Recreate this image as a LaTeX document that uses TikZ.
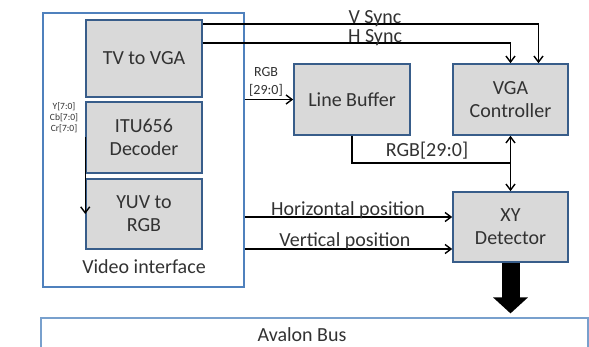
\documentclass[tikz,border=0pt]{standalone}
\usepackage{fontspec}
\setmainfont{Carlito}
\usepackage{tikz}
\usetikzlibrary{positioning, arrows.meta}
\definecolor{BoxEdge}{RGB}{56,93,138}
\definecolor{BoxFill}{RGB}{217,217,217}
\definecolor{OuterEdge}{RGB}{79,129,189}
\definecolor{BusEdge}{RGB}{120,160,205}
\definecolor{TxtGray}{RGB}{50,50,50}

\begin{document}
\begin{tikzpicture}[x=1pt, y=1pt,
    blk/.style={rectangle, draw=BoxEdge, line width=1.6pt, fill=BoxFill,
                minimum width=116pt, minimum height=71pt, inner sep=0pt,
                align=center, font=\fontsize{20}{23}\selectfont, text=TxtGray},
    frame/.style={rectangle, draw=OuterEdge, line width=1.4pt, inner sep=0pt},
    arr/.style={-{Straight Barb[length=6pt, width=9pt]}, line width=1.4pt},
    lbl/.style={font=\fontsize{20}{23}\selectfont, text=TxtGray, inner sep=0pt}
  ]
  \useasboundingbox (0,0) rectangle (589,347);
  \clip (0,0) rectangle (589,347);

  % Video interface
  \node[frame, minimum width=201pt, minimum height=274pt] (vi) at (143.5,197) {};
  \node[blk, minimum height=77pt] (tv)  at (144,288.5) {TV to VGA};
  \node[blk] (itu) at (144,209.5) {ITU656\\Decoder};
  \node[blk, minimum height=70pt] (yuv) at (144,133) {YUV to\\RGB};
  \node[lbl] (vilbl) at (144,80) {Video interface};
  \node[font=\fontsize{9.5}{11}\selectfont, text=TxtGray, align=center, inner sep=0pt]
        (ycc) at (64,229) {Y[7:0]\\Cb[7:0]\\Cr[7:0]};
  \draw[arr] (itu.west) -- (yuv.west);

  % Line buffer, VGA controller, detector
  \node[blk] (lb)  at (352,247.5) {Line Buffer};
  \node[blk, minimum width=115pt] (vga) at (510.5,247.5) {VGA\\Controller};
  \node[blk, minimum width=115pt, minimum height=70pt] (xy) at (510.5,120) {XY\\Detector};

  % Avalon bus
  \node[rectangle, draw=BusEdge, line width=1.2pt, minimum width=547pt,
        minimum height=48pt] (bus) at (314.5,5) {};
  \node[lbl] (buslbl) at (302,12) {Avalon Bus};

  % sync lines
  \draw[arr] ([yshift=-5pt]tv.north east) -| ([xshift=28pt]vga.north);
  \draw[arr] ([yshift=-24pt]tv.north east) -| (vga.north);
  \node[lbl] (vs) at (375,328.5) {V Sync};
  \node[lbl] (hs) at (375,309.5) {H Sync};

  % RGB data
  \draw[arr] (vi.east |- lb.west) -- (lb.west);
  \node[font=\fontsize{14}{18}\selectfont, text=TxtGray, align=center, inner sep=0pt]
        (rgbin) at (266,265) {RGB\\{[29:0]}};
  \coordinate (jn) at (510.5,184);
  \draw[line width=1.4pt] (lb.south) |- (jn);
  \draw[arr] (jn) -- (vga.south);
  \draw[arr] (jn) -- (xy.north);
  \node[lbl] (rgbout) at (427,196) {RGB[29:0]};

  % positions
  \coordinate (hp) at ([yshift=10pt]xy.west);
  \coordinate (vp) at ([yshift=-22pt]xy.west);
  \draw[arr] (vi.east |- hp) -- (hp);
  \draw[arr] (vi.east |- vp) -- (vp);
  \node[lbl] (hpl) at (348,137) {Horizontal position};
  \node[lbl] (vpl) at (345,106) {Vertical position};

  % to the bus
  \draw[line width=18pt, -{Triangle[length=16pt, width=34pt]}, shorten >=4pt]
        (xy.south) -- (xy.south |- bus.north);
\end{tikzpicture}
\end{document}
